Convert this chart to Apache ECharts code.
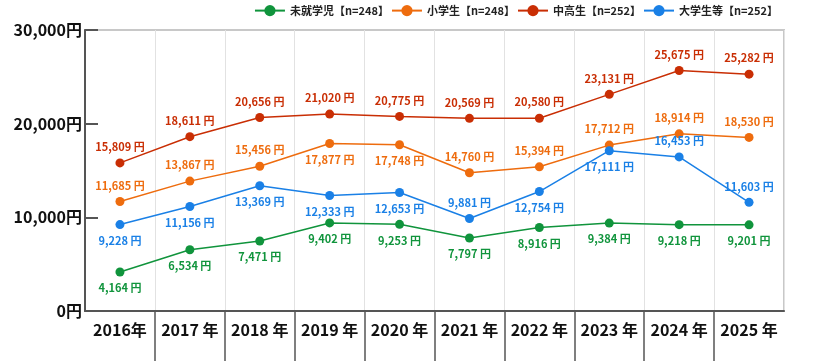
<!DOCTYPE html>
<html><head><meta charset="utf-8">
<script src="https://cdn.jsdelivr.net/npm/echarts@6/dist/echarts.min.js"></script>
<style>html,body{margin:0;padding:0;background:#fff}#c{width:815px;height:361px}</style>
</head><body><div id="c"></div>
<script>
const years = ['2016年', '2017 年', '2018 年', '2019 年', '2020 年', '2021 年', '2022 年', '2023 年', '2024 年', '2025 年'];
const seriesNames = ['未就学児【n=248】', '小学生【n=248】', '中高生【n=252】', '大学生等【n=252】'];
const preschool  = [4164, 6534, 7471, 9402, 9253, 7797, 8916, 9384, 9218, 9201];
const elementary = [11685, 13867, 15456, 17877, 17748, 14760, 15394, 17712, 18914, 18530];
const highschool = [15809, 18611, 20656, 21020, 20775, 20569, 20580, 23131, 25675, 25282];
const university = [9228, 11156, 13369, 12333, 12653, 9881, 12754, 17111, 16453, 11603];
const yMin = 0, yMax = 30000, yStep = 10000;
const separators = [1, 2, 3, 4, 5, 6, 7, 8, 9];

// label placement (style, not data)
const T = 'top', B = 'bottom';
const place = [
  [B, B, B, B, B, B, B, B, B, B],
  [T, T, T, B, B, T, T, T, T, T],
  [T, T, T, T, T, T, T, T, T, T],
  [B, B, B, B, B, T, B, B, T, T]
];
const colors = ['#10943c', '#ee6c0e', '#c92e04', '#1a80e6'];
const values = [preschool, elementary, highschool, university];

const FONT = '"Noto Sans CJK JP", "Noto Sans", sans-serif';
const fmt = v => v.toLocaleString('en-US');

const series = values.map((arr, si) => ({
  name: seriesNames[si],
  type: 'line',
  xAxisIndex: 0,
  symbol: 'circle',
  symbolSize: 9,
  lineStyle: { width: 1.5, color: colors[si] },
  itemStyle: { color: colors[si] },
  label: {
    show: true,
    distance: 6,
    color: colors[si],
    fontFamily: FONT,
    fontWeight: 'bold',
    fontSize: 11,
    formatter: p => fmt(p.value) + ' 円'
  },
  data: arr.map((v, i) => ({ value: v, label: { position: place[si][i] } })),
  z: 3 + si
}));

const chart = echarts.init(document.getElementById('c'), null, { renderer: 'canvas' });
chart.setOption({
  animation: false,
  backgroundColor: '#fff',
  textStyle: { fontFamily: FONT },
  legend: {
    top: 0,
    right: 32,
    itemWidth: 30,
    itemHeight: 14,
    itemGap: 2,
    textStyle: { fontFamily: FONT, fontWeight: 'bold', fontSize: 11, color: '#222' },
    data: seriesNames
  },
  grid: {
    left: 85, right: 31, top: 30, bottom: 50,
    outerBoundsMode: 'none',
    containLabel: false,
    show: true,
    borderColor: '#c8c8c8',
    borderWidth: 2
  },
  xAxis: [{
    type: 'category',
    data: years,
    boundaryGap: true,
    axisLine: { lineStyle: { color: '#555', width: 2 } },
    axisTick: { show: false },
    splitLine: { show: true, interval: 0, lineStyle: { color: '#e2e2e2', width: 1 } },
    axisLabel: { interval: 0, color: '#111', fontFamily: FONT, fontWeight: 'bold', fontSize: 16, margin: 11 }
  }, {
    type: 'value',
    position: 'bottom',
    min: 0, max: years.length, interval: 1,
    axisLine: { show: false },
    axisLabel: { show: false },
    splitLine: { show: false },
    axisTick: { show: true, customValues: separators, length: 50, lineStyle: { color: '#555', width: 1.5 } }
  }],
  yAxis: {
    type: 'value',
    min: yMin, max: yMax, interval: yStep,
    axisLine: { show: true, lineStyle: { color: '#555', width: 2 } },
    axisTick: { show: true, inside: true, length: 13, lineStyle: { color: '#555', width: 2 } },
    splitLine: { show: false },
    axisLabel: { color: '#111', fontFamily: FONT, fontWeight: 'bold', fontSize: 16, margin: 3,
      formatter: v => fmt(v) + '円' }
  },
  series: series
});
</script></body></html>
